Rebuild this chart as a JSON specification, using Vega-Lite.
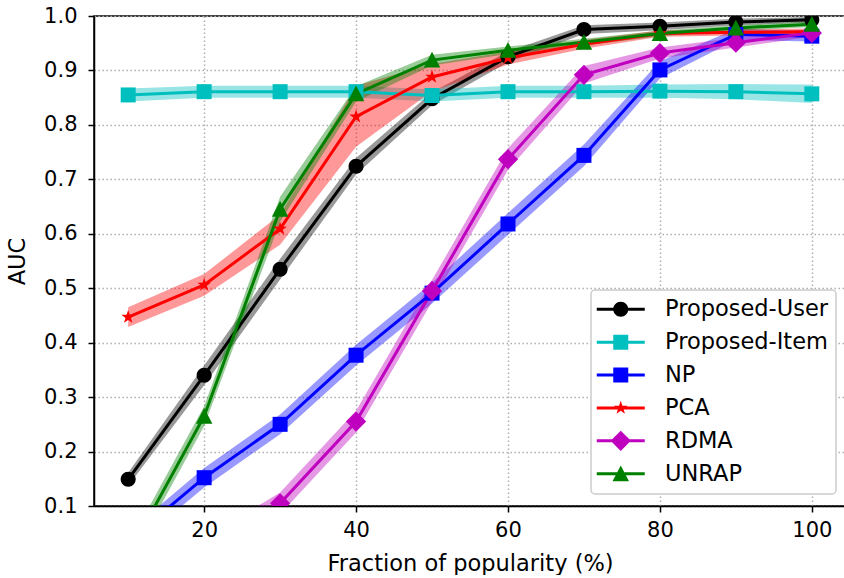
{
  "$schema": "https://vega.github.io/schema/vega-lite/v6.json",
  "width": 752,
  "height": 490,
  "padding": {"left": 6, "top": 5, "right": 0, "bottom": 0},
  "background": "white",
  "config": {
    "font": "DejaVu Sans",
    "view": {"stroke": "black", "strokeWidth": 1.5},
    "axis": {
      "domain": true, "domainColor": "black", "domainWidth": 1.5,
      "ticks": true, "tickColor": "black", "tickWidth": 1.5, "tickSize": 6,
      "labelFont": "DejaVu Sans", "labelFontSize": 21, "labelColor": "black",
      "titleFont": "DejaVu Sans", "titleFontSize": 22.5, "titleFontWeight": "normal", "titleColor": "black",
      "grid": true, "gridColor": "#b0b0b0", "gridDash": [1.5, 2.5], "gridWidth": 1.5
    }
  },
  "resolve": {"legend": {"color": "independent"}},
  "data": {"values": [
    {"series": "Proposed-User", "x": 10, "y": 0.149, "lo": 0.137, "hi": 0.161},
    {"series": "Proposed-User", "x": 20, "y": 0.340, "lo": 0.322, "hi": 0.358},
    {"series": "Proposed-User", "x": 30, "y": 0.535, "lo": 0.516, "hi": 0.554},
    {"series": "Proposed-User", "x": 40, "y": 0.724, "lo": 0.709, "hi": 0.739},
    {"series": "Proposed-User", "x": 50, "y": 0.848, "lo": 0.836, "hi": 0.860},
    {"series": "Proposed-User", "x": 60, "y": 0.925, "lo": 0.915, "hi": 0.935},
    {"series": "Proposed-User", "x": 70, "y": 0.975, "lo": 0.967, "hi": 0.983},
    {"series": "Proposed-User", "x": 80, "y": 0.981, "lo": 0.974, "hi": 0.988},
    {"series": "Proposed-User", "x": 90, "y": 0.989, "lo": 0.983, "hi": 0.995},
    {"series": "Proposed-User", "x": 100, "y": 0.993, "lo": 0.988, "hi": 0.998},
    {"series": "Proposed-Item", "x": 10, "y": 0.855, "lo": 0.843, "hi": 0.867},
    {"series": "Proposed-Item", "x": 20, "y": 0.861, "lo": 0.850, "hi": 0.872},
    {"series": "Proposed-Item", "x": 30, "y": 0.861, "lo": 0.850, "hi": 0.872},
    {"series": "Proposed-Item", "x": 40, "y": 0.861, "lo": 0.850, "hi": 0.872},
    {"series": "Proposed-Item", "x": 50, "y": 0.854, "lo": 0.843, "hi": 0.865},
    {"series": "Proposed-Item", "x": 60, "y": 0.861, "lo": 0.850, "hi": 0.872},
    {"series": "Proposed-Item", "x": 70, "y": 0.861, "lo": 0.850, "hi": 0.872},
    {"series": "Proposed-Item", "x": 80, "y": 0.862, "lo": 0.850, "hi": 0.874},
    {"series": "Proposed-Item", "x": 90, "y": 0.861, "lo": 0.847, "hi": 0.875},
    {"series": "Proposed-Item", "x": 100, "y": 0.857, "lo": 0.840, "hi": 0.874},
    {"series": "NP", "x": 10, "y": 0.035, "lo": 0.018, "hi": 0.052},
    {"series": "NP", "x": 20, "y": 0.152, "lo": 0.134, "hi": 0.170},
    {"series": "NP", "x": 30, "y": 0.250, "lo": 0.232, "hi": 0.268},
    {"series": "NP", "x": 40, "y": 0.377, "lo": 0.358, "hi": 0.396},
    {"series": "NP", "x": 50, "y": 0.491, "lo": 0.472, "hi": 0.510},
    {"series": "NP", "x": 60, "y": 0.618, "lo": 0.598, "hi": 0.638},
    {"series": "NP", "x": 70, "y": 0.744, "lo": 0.724, "hi": 0.764},
    {"series": "NP", "x": 80, "y": 0.901, "lo": 0.885, "hi": 0.917},
    {"series": "NP", "x": 90, "y": 0.966, "lo": 0.956, "hi": 0.976},
    {"series": "NP", "x": 100, "y": 0.963, "lo": 0.953, "hi": 0.973},
    {"series": "PCA", "x": 10, "y": 0.447, "lo": 0.429, "hi": 0.465},
    {"series": "PCA", "x": 20, "y": 0.506, "lo": 0.486, "hi": 0.526},
    {"series": "PCA", "x": 30, "y": 0.609, "lo": 0.580, "hi": 0.635},
    {"series": "PCA", "x": 40, "y": 0.815, "lo": 0.760, "hi": 0.872},
    {"series": "PCA", "x": 50, "y": 0.888, "lo": 0.862, "hi": 0.912},
    {"series": "PCA", "x": 60, "y": 0.923, "lo": 0.911, "hi": 0.935},
    {"series": "PCA", "x": 70, "y": 0.948, "lo": 0.940, "hi": 0.956},
    {"series": "PCA", "x": 80, "y": 0.968, "lo": 0.962, "hi": 0.974},
    {"series": "PCA", "x": 90, "y": 0.970, "lo": 0.964, "hi": 0.976},
    {"series": "PCA", "x": 100, "y": 0.971, "lo": 0.965, "hi": 0.977},
    {"series": "RDMA", "x": 10, "y": -0.02, "lo": -0.04, "hi": 0.0},
    {"series": "RDMA", "x": 20, "y": 0.02, "lo": 0.0, "hi": 0.04},
    {"series": "RDMA", "x": 30, "y": 0.105, "lo": 0.085, "hi": 0.125},
    {"series": "RDMA", "x": 40, "y": 0.255, "lo": 0.235, "hi": 0.275},
    {"series": "RDMA", "x": 50, "y": 0.495, "lo": 0.475, "hi": 0.515},
    {"series": "RDMA", "x": 60, "y": 0.737, "lo": 0.717, "hi": 0.757},
    {"series": "RDMA", "x": 70, "y": 0.892, "lo": 0.876, "hi": 0.908},
    {"series": "RDMA", "x": 80, "y": 0.932, "lo": 0.922, "hi": 0.942},
    {"series": "RDMA", "x": 90, "y": 0.951, "lo": 0.942, "hi": 0.960},
    {"series": "RDMA", "x": 100, "y": 0.969, "lo": 0.962, "hi": 0.976},
    {"series": "UNRAP", "x": 10, "y": 0.010, "lo": -0.008, "hi": 0.028},
    {"series": "UNRAP", "x": 20, "y": 0.265, "lo": 0.247, "hi": 0.283},
    {"series": "UNRAP", "x": 30, "y": 0.645, "lo": 0.622, "hi": 0.668},
    {"series": "UNRAP", "x": 40, "y": 0.857, "lo": 0.843, "hi": 0.871},
    {"series": "UNRAP", "x": 50, "y": 0.919, "lo": 0.909, "hi": 0.929},
    {"series": "UNRAP", "x": 60, "y": 0.937, "lo": 0.930, "hi": 0.944},
    {"series": "UNRAP", "x": 70, "y": 0.952, "lo": 0.946, "hi": 0.958},
    {"series": "UNRAP", "x": 80, "y": 0.968, "lo": 0.963, "hi": 0.973},
    {"series": "UNRAP", "x": 90, "y": 0.978, "lo": 0.973, "hi": 0.983},
    {"series": "UNRAP", "x": 100, "y": 0.985, "lo": 0.980, "hi": 0.990}
  ]},
  "encoding": {
    "x": {
      "field": "x", "type": "quantitative",
      "scale": {"domain": [5.5, 104.5], "nice": false, "zero": false},
      "axis": {"values": [20, 40, 60, 80, 100], "title": "Fraction of popularity (%)", "labelPadding": 7, "titlePadding": 12}
    }
  },
  "layer": [
    {
      "mark": {"type": "area", "opacity": 0.4, "clip": true},
      "encoding": {
        "y": {"field": "lo", "type": "quantitative",
              "scale": {"domain": [0.1, 1.0], "nice": false, "zero": false},
              "axis": {"values": [0.1, 0.2, 0.3, 0.4, 0.5, 0.6, 0.7, 0.8, 0.9, 1.0], "format": ".1f", "title": "AUC", "labelPadding": 11, "titlePadding": 14}},
        "y2": {"field": "hi"},
        "color": {"field": "series", "type": "nominal",
                  "scale": {"domain": ["Proposed-User", "Proposed-Item", "NP", "PCA", "RDMA", "UNRAP"],
                            "range": ["#000000", "#00bfbf", "#0000ff", "#ff0000", "#bf00bf", "#008000"]},
                  "legend": null}
      }
    },
    {
      "mark": {"type": "line", "strokeWidth": 3, "clip": true},
      "encoding": {
        "y": {"field": "y", "type": "quantitative"},
        "color": {"field": "series", "type": "nominal", "legend": null}
      }
    },
    {
      "mark": {"type": "point", "filled": true, "opacity": 1, "size": 225, "strokeWidth": 0, "clip": true},
      "encoding": {
        "y": {"field": "y", "type": "quantitative"},
        "color": {"field": "series", "type": "nominal",
          "legend": {
            "orient": "none", "legendX": 497, "legendY": 274,
            "title": null,
            "labelFont": "DejaVu Sans", "labelFontSize": 22.5, "labelColor": "black", "labelLimit": 400,
            "labelOffset": 33, "symbolOffset": 10.5, "symbolSize": 225, "symbolStrokeWidth": 0, "symbolOpacity": 1,
            "rowPadding": 9.9, "padding": 8,
            "fillColor": "white", "strokeColor": "#cccccc", "cornerRadius": 4,
            "encoding": {
              "legend": {"strokeWidth": {"value": 1.5}},
              "symbols": {
                "shape": {"value": {"expr": "datum.value === 'Proposed-User' ? 'M-3.2,-0.2H3.2V0.2H-3.2ZM-1,0A1,1,0,1,1,1,0A1,1,0,1,1,-1,0Z' : (datum.value === 'Proposed-Item' || datum.value === 'NP') ? 'M-3.2,-0.2H3.2V0.2H-3.2ZM-1,-1H1V1H-1Z' : datum.value === 'PCA' ? 'M-3.2,-0.2H3.2V0.2H-3.2ZM0,-0.95L0.223,-0.307L0.904,-0.294L0.361,0.117L0.559,0.769L0,0.38L-0.559,0.769L-0.361,0.117L-0.904,-0.294L-0.223,-0.307Z' : datum.value === 'RDMA' ? 'M-3.2,-0.2H3.2V0.2H-3.2ZM0,-1.35L1.35,0L0,1.35L-1.35,0Z' : 'M-3.2,-0.2H3.2V0.2H-3.2ZM0,-1.1L1.1,1H-1.1Z'"}}
              }
            }
          }
        },
        "shape": {"field": "series", "type": "nominal",
          "scale": {"domain": ["Proposed-User", "Proposed-Item", "NP", "PCA", "RDMA", "UNRAP"],
                    "range": ["M-1,0A1,1,0,1,1,1,0A1,1,0,1,1,-1,0Z", "M-1,-1H1V1H-1Z", "M-1,-1H1V1H-1Z",
                              "M0,-0.95L0.223,-0.307L0.904,-0.294L0.361,0.117L0.559,0.769L0,0.38L-0.559,0.769L-0.361,0.117L-0.904,-0.294L-0.223,-0.307Z",
                              "M0,-1.35L1.35,0L0,1.35L-1.35,0Z", "M0,-1.1L1.1,1H-1.1Z"]},
          "legend": null}
      }
    }
  ]
}
